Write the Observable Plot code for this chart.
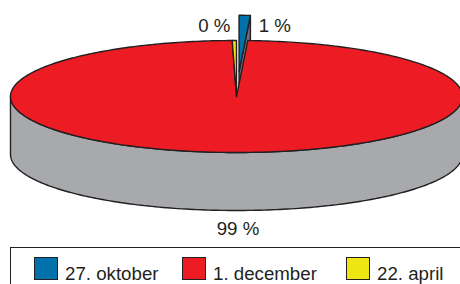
<!DOCTYPE html>
<html>
<head>
<meta charset="utf-8">
<script src="https://cdn.jsdelivr.net/npm/d3@7"></script>
<script src="https://cdn.jsdelivr.net/npm/@observablehq/plot@0.6"></script>
<style>
  html, body { margin: 0; padding: 0; background: #fff; overflow: hidden; }
  #wrap { position: relative; width: 460px; height: 284px; overflow: hidden; font-family: "Liberation Sans", Arial, sans-serif; }
  #wrap svg { display: block; }
  .legend { position: absolute; left: 10px; top: 247px; width: 520px; height: 60px; box-sizing: border-box;
            border: 1.5px solid #231F20; padding: 9px 0 0 22.5px; display: grid;
            grid-template-columns: 148px 164px auto; align-items: baseline; }
  .item { display: flex; align-items: baseline; font-size: 18.7px; color: #231F20; white-space: nowrap; }
  .sw { display: inline-block; width: 22px; height: 21px; border: 1.2px solid #231F20; margin-right: 7.5px; }
</style>
</head>
<body>
<div id="wrap"></div>
<script>
// ---- data ----
const categories = ["27. oktober", "1. december", "22. april"];
const values = [0.8, 98.9, 0.3];
const colors = ["#0071AA", "#ED1C24", "#EEE612"];
const exploded = [true, false, false];

// ---- layout (pixel geometry of the tilted pie) ----
const W = 460, H = 247;
const cx = 236, cy = 96, rx = 226, ry = 56, depthPx = 58;
const D = depthPx / ry;      // depth in y-units
const E = 0.45;              // explode distance (radius units)
const outline = "#231F20";
const sideGray = "#A7A9AC";
const wallColor = "#66717F";

const total = d3.sum(values);
const arcs = d3.pie().sort(null).value(d => d)(values);

function arcPts(a0, a1, ox, oy, dz) {
  const n = Math.max(2, Math.ceil(Math.abs(a1 - a0) / (2 * Math.PI) * 360));
  const pts = [];
  for (let i = 0; i <= n; i++) {
    const a = a0 + (a1 - a0) * i / n;
    pts.push([Math.sin(a) + ox, Math.cos(a) + oy - dz]);
  }
  return pts;
}

const slices = arcs.map((a, i) => {
  const m = (a.startAngle + a.endAngle) / 2;
  const e = exploded[i] ? E : 0;
  return { i, a0: a.startAngle, a1: a.endAngle, m, ox: e * Math.sin(m), oy: e * Math.cos(m),
           exploded: exploded[i], color: colors[i], value: values[i] };
});

const polys = [];
let pid = 0;
function addPoly(pts, fill) {
  const id = pid++;
  const closed = pts.concat([pts[0]]);
  closed.forEach(([x, y]) => polys.push({ x, y, id, fill }));
}
function topFace(s) {
  addPoly([[s.ox, s.oy], ...arcPts(s.a0, s.a1, s.ox, s.oy, 0)], s.color);
}
function frontRim(s, fill) {
  const lo = Math.max(s.a0, Math.PI / 2), hi = Math.min(s.a1, 3 * Math.PI / 2);
  if (hi <= lo) return;
  const upper = arcPts(lo, hi, s.ox, s.oy, 0);
  const lower = arcPts(lo, hi, s.ox, s.oy, D).reverse();
  addPoly(upper.concat(lower), fill);
}
function walls(s, fill) {
  if (Math.sin(s.a1) > 1e-6) {
    const px = Math.sin(s.a1) + s.ox, py = Math.cos(s.a1) + s.oy;
    addPoly([[s.ox, s.oy], [px, py], [px, py - D], [s.ox, s.oy - D]], fill);
  }
  if (Math.sin(s.a0) < -1e-6) {
    const px = Math.sin(s.a0) + s.ox, py = Math.cos(s.a0) + s.oy;
    addPoly([[s.ox, s.oy], [px, py], [px, py - D], [s.ox, s.oy - D]], fill);
  }
}

// exploded slices (behind), then sides, then top faces
slices.filter(s => s.exploded).forEach(s => { walls(s, wallColor); frontRim(s, sideGray); topFace(s); });
slices.filter(s => !s.exploded).forEach(s => frontRim(s, sideGray));
slices.filter(s => !s.exploded).forEach(s => topFace(s));

// labels
const topLevel = 1 + E;
const labels = slices.map(s => {
  const pct = Math.round(s.value / total * 100) + " %";
  const sx = Math.sin(s.m), cyv = Math.cos(s.m);
  if (cyv >= 0) {
    const right = sx >= 0;
    return { x: sx + s.ox, y: topLevel, text: pct, anchor: right ? "start" : "end",
             dx: (right ? 1 : -1) * (s.exploded ? 14 : 4), dy: 11 };
  }
  return { x: sx + s.ox, y: cyv + s.oy - D, text: pct, anchor: "middle", dx: 5, dy: 19 };
});

const textOpts = { fontSize: 18.7, fill: outline, fontFamily: "Liberation Sans, Arial, sans-serif" };
const textMarks = ["start", "end", "middle"].map(anc => {
  const d = labels.filter(l => l.anchor === anc);
  return Plot.text(d, { x: "x", y: "y", text: "text", textAnchor: anc,
                        dx: d.length ? d[0].dx : 0, dy: d.length ? d[0].dy : 0, ...textOpts });
});

const plot = Plot.plot({
  width: W, height: H,
  marginTop: 0, marginBottom: 0, marginLeft: 0, marginRight: 0,
  x: { domain: [(0 - cx) / rx, (W - cx) / rx], axis: null },
  y: { domain: [(cy - H) / ry, cy / ry], axis: null },
  color: { type: "identity" },
  style: { background: "#fff", overflow: "visible" },
  marks: [
    Plot.line(polys, { x: "x", y: "y", z: "id", fill: "fill", stroke: outline, strokeWidth: 1.4,
                       strokeLinejoin: "round", curve: "linear" }),
    ...textMarks
  ]
});

const wrap = document.getElementById("wrap");
wrap.appendChild(plot);

// legend
const leg = document.createElement("div");
leg.className = "legend";
categories.forEach((c, i) => {
  const it = document.createElement("div");
  it.className = "item";
  const sw = document.createElement("span");
  sw.className = "sw";
  sw.style.background = colors[i];
  it.appendChild(sw);
  it.appendChild(document.createTextNode(c));
  leg.appendChild(it);
});
wrap.appendChild(leg);
</script>
</body>
</html>
